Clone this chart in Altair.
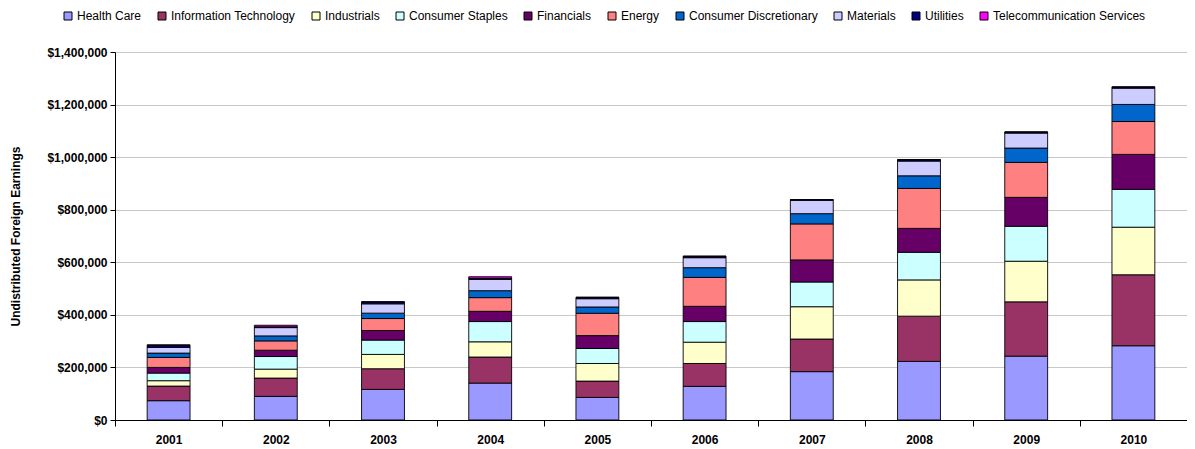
import altair as alt
import pandas as pd

years = ["2001", "2002", "2003", "2004", "2005", "2006", "2007", "2008", "2009", "2010"]
sectors = ["Health Care", "Information Technology", "Industrials", "Consumer Staples",
           "Financials", "Energy", "Consumer Discretionary", "Materials", "Utilities",
           "Telecommunication Services"]
colors = ["#9999FF", "#993366", "#FFFFCC", "#CCFFFF", "#660066", "#FF8080",
          "#0066CC", "#CCCCFF", "#000080", "#FF00FF"]

health_care = [73500, 90000, 116500, 140500, 86000, 128000, 184000, 223000, 243000, 282500]
information_technology = [55500, 69500, 78500, 99000, 62000, 87000, 124000, 172000, 206500, 270000]
industrials = [20500, 34000, 54500, 58000, 67000, 81000, 123000, 138000, 154500, 181000]
consumer_staples = [29000, 48000, 54500, 77000, 57000, 78500, 94000, 105000, 133000, 144000]
financials = [21500, 24000, 36500, 39000, 49000, 58000, 84000, 91000, 110000, 133000]
energy = [38000, 35500, 45500, 52000, 85000, 110000, 137000, 152000, 133000, 125000]
consumer_discretionary = [16500, 19000, 20500, 26500, 24000, 37000, 39000, 48000, 54500, 65000]
materials = [21500, 31500, 35500, 43000, 31500, 38000, 51000, 56000, 57000, 62000]
utilities = [8000, 3000, 7000, 4000, 5000, 5000, 2000, 5000, 4000, 4000]
telecom = [2000, 6000, 1000, 6000, 500, 1000, 500, 1000, 500, 1000]

series = [health_care, information_technology, industrials, consumer_staples, financials,
          energy, consumer_discretionary, materials, utilities, telecom]

rows = []
for i, (s, vals) in enumerate(zip(sectors, series)):
    for y, v in zip(years, vals):
        rows.append({"Year": y, "Sector": s, "Value": v, "ord": i})
df = pd.DataFrame(rows)

FONT = "Arial, Liberation Sans, sans-serif"

chart = alt.Chart(df).mark_bar(
    stroke="black", strokeWidth=0.9, width=alt.RelativeBandSize(0.4)
).encode(
    x=alt.X("Year:N", sort=years,
            scale=alt.Scale(paddingInner=0, paddingOuter=0),
            axis=alt.Axis(title=None, labelAngle=0, labelFont=FONT, labelFontWeight="bold",
                          labelFontSize=12, labelColor="black", tickBand="extent",
                          domainColor="black", tickColor="black", tickSize=6,
                          labelPadding=8, grid=False)),
    y=alt.Y("Value:Q", stack="zero",
            scale=alt.Scale(domain=[0, 1400000]),
            axis=alt.Axis(title="Undistributed Foreign Earnings",
                          values=[0, 200000, 400000, 600000, 800000, 1000000, 1200000, 1400000],
                          format="$,.0f", labelFont=FONT, labelFontWeight="bold",
                          labelFontSize=12, labelColor="black", tickSize=5, labelPadding=3,
                          tickColor="black", domainColor="black", gridColor="#C8C8C8",
                          titleFont=FONT, titleFontWeight="bold", titleFontSize=12,
                          titleColor="black", titleX=-100, titleBaseline="middle")),
    color=alt.Color("Sector:N", scale=alt.Scale(domain=sectors, range=colors),
                    legend=alt.Legend(title=None, orient="none", legendX=-53, legendY=-42,
                                      direction="horizontal", columns=10,
                                      symbolType="square", symbolSize=64,
                                      symbolStrokeColor="black", symbolStrokeWidth=1,
                                      labelFont=FONT, labelFontSize=12, labelColor="black",
                                      labelLimit=400, columnPadding=14, labelOffset=3)),
    order=alt.Order("ord:Q", sort="ascending"),
).properties(
    width=1072, height=368,
    autosize=alt.AutoSizeParams(type="none"),
    padding={"left": 107, "top": 44, "right": 0, "bottom": 28},
).configure_view(stroke=None)

chart.save("out.html", embed_options={"renderer": "svg", "actions": False})
